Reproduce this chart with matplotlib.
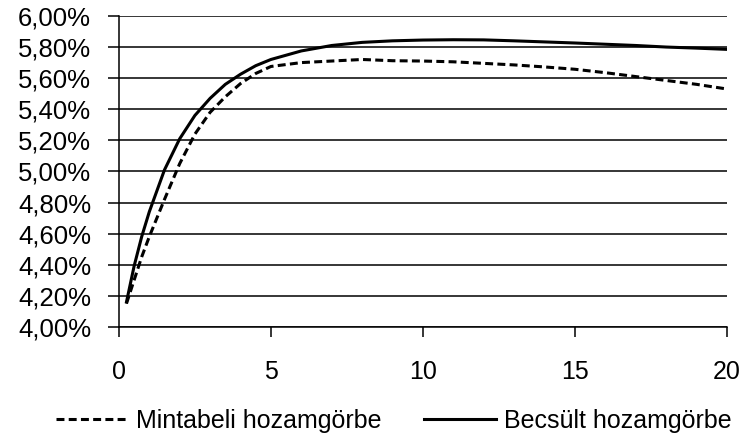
import matplotlib.pyplot as plt
from matplotlib.ticker import FuncFormatter

plt.rcParams["font.family"] = ["Liberation Sans", "DejaVu Sans"]

# maturity in years
maturities = [0.25, 0.5, 0.75, 1.0, 1.5, 2.0, 2.5, 3.0, 3.5, 4.0, 4.5, 5.0,
              6.0, 7.0, 8.0, 9.0, 10.0, 11.0, 12.0, 13.0, 14.0, 15.0,
              16.0, 17.0, 18.0, 19.0, 20.0]
# yields in percent
sample_curve = [4.15, 4.30, 4.45, 4.58, 4.82, 5.05, 5.24, 5.38, 5.48, 5.565, 5.63, 5.675,
                5.70, 5.71, 5.72, 5.712, 5.71, 5.705, 5.695, 5.685, 5.672, 5.657,
                5.635, 5.61, 5.585, 5.56, 5.53]
fitted_curve = [4.16, 4.39, 4.58, 4.74, 5.01, 5.21, 5.36, 5.47, 5.56, 5.625, 5.68, 5.72,
                5.775, 5.81, 5.83, 5.84, 5.845, 5.847, 5.846, 5.84, 5.833, 5.826,
                5.818, 5.81, 5.80, 5.793, 5.785]
labels = ["Mintabeli hozamgörbe", "Becsült hozamgörbe"]

fig = plt.figure(figsize=(7.43, 4.37), dpi=100)
ax = fig.add_axes([0.160, 0.252, 0.8185, 0.7115])

ax.plot(maturities, sample_curve, color="black", lw=2.2, ls=(0, (2.6, 1.4)), label=labels[0])
ax.plot(maturities, fitted_curve, color="black", lw=2.2, label=labels[1])

ax.set_xlim(0, 20)
ax.set_ylim(4.0, 6.0)
ax.set_xticks([0, 5, 10, 15, 20])
ax.set_yticks([4.0 + 0.2 * i for i in range(11)])
ax.yaxis.set_major_formatter(FuncFormatter(lambda v, p: f"{v:.2f}%".replace(".", ",")))
ax.grid(axis="y", color="black", lw=1.1)
ax.set_axisbelow(True)

for s in ["top", "right"]:
    ax.spines[s].set_visible(False)
ax.spines["left"].set_linewidth(1.1)
ax.spines["bottom"].set_linewidth(1.1)
ax.tick_params(axis="y", length=8, width=1.1, labelsize=18.5, pad=12)
ax.tick_params(axis="x", length=7, width=1.1, labelsize=18, pad=17)

fig.legend(loc="center", bbox_to_anchor=(0.53, 0.037), ncol=2, frameon=False,
           fontsize=18, handlelength=2.9, columnspacing=1.7, handletextpad=0.3)

fig.savefig("out.png", dpi=100)
